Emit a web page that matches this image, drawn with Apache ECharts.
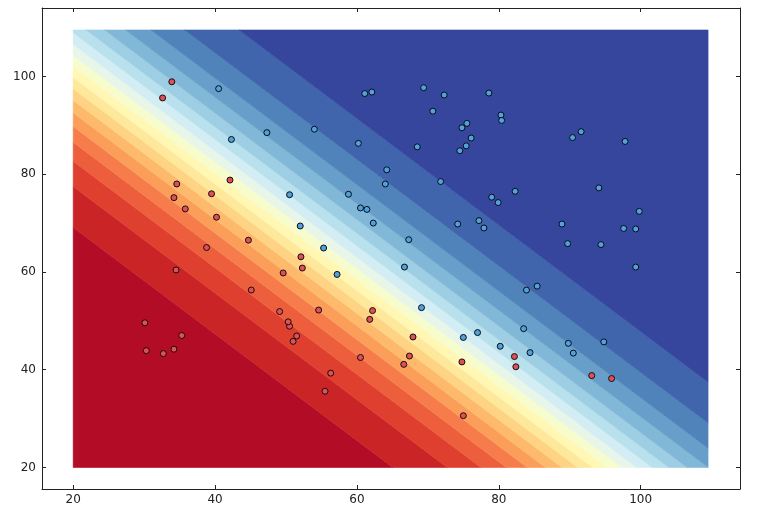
<!DOCTYPE html>
<html>
<head>
<meta charset="utf-8">
<script src="https://cdn.jsdelivr.net/npm/echarts@6/dist/echarts.min.js"></script>
<style>
html,body{margin:0;padding:0;background:#ffffff;}
#chart{width:768px;height:516px;}
</style>
</head>
<body>
<div id="chart"></div>
<script>
// ---- data ----
const tickValues = [20, 40, 60, 80, 100];

const rejectedExam1 = [34.6,30.3,35.8,45.1,95.9,75.0,39.5,67.9,67.4,50.5,34.2,93.1,61.8,38.8,52.1,40.2,54.6,33.9,74.8,34.2,51.5,82.4,51.0,62.2,34.5,50.3,49.6,32.6,35.3,56.3,30.1,44.7,66.6,49.1,32.7,60.5,82.2,42.1,52.3,55.5];
const rejectedExam2 = [78.0,43.9,72.9,56.3,38.2,30.6,76.0,46.7,42.8,48.9,44.2,38.8,50.3,65.0,63.1,71.2,52.2,98.9,41.6,75.2,46.9,40.6,45.8,52.1,60.4,49.8,59.8,95.6,47.0,39.3,49.6,66.5,41.1,51.9,43.3,42.5,42.7,78.8,60.8,35.6];

const admittedExam1 = [60.2,79.0,61.1,75.0,76.1,84.4,82.3,69.4,54.0,69.1,70.7,77.0,89.7,77.9,62.3,80.2,61.4,85.4,52.0,64.2,83.9,94.4,77.2,97.8,62.1,91.6,79.9,99.3,90.5,97.6,74.2,71.8,75.4,40.5,80.3,66.7,64.0,72.3,60.5,58.8,99.8,47.3,50.5,88.9,94.8,67.3,57.2,80.4,68.5,75.5,78.6,94.1,90.4,74.5,89.8,83.5,42.3,99.3,55.3,74.8];
const admittedExam2 = [86.3,75.3,96.5,46.6,87.4,43.5,76.5,97.7,89.2,52.7,92.9,47.6,65.8,69.0,70.0,44.8,72.8,57.1,69.4,80.9,56.3,65.6,70.5,86.7,96.8,88.7,74.2,61.0,43.4,68.9,69.8,78.5,85.8,97.5,92.1,61.0,78.0,96.2,73.1,75.9,72.4,88.5,75.8,69.8,45.7,66.6,59.5,91.0,85.6,90.4,96.6,77.2,87.5,84.8,45.4,48.4,87.1,68.8,64.9,89.5];

// logistic model: p = 1 / (1 + exp(-(wX*x + wY*y + b)))
const modelWeights = [0.0974, 0.0894];
const modelIntercept = -11.07;
const meshRange = [20, 109.5];
const probabilityLevels = [0,0.05,0.1,0.15,0.2,0.25,0.3,0.35,0.4,0.45,0.5,0.55,0.6,0.65,0.7,0.75,0.8,0.85,0.9,0.95,1.0];

// ---- styling ----
const rdylbuStops = ['#a50026','#d73027','#f46d43','#fdae61','#fee090','#ffffbf','#e0f3f8','#abd9e9','#74add1','#4575b4','#313695'];
function hexToRgb(h){return [parseInt(h.slice(1,3),16),parseInt(h.slice(3,5),16),parseInt(h.slice(5,7),16)];}
function rdylbu(t){
  t = Math.max(0, Math.min(1, t));
  const n = rdylbuStops.length - 1;
  const f = t * n;
  const i = Math.min(n - 1, Math.floor(f));
  const r = f - i;
  const a = hexToRgb(rdylbuStops[i]), b = hexToRgb(rdylbuStops[i + 1]);
  const c = a.map((v, k) => Math.round(v + (b[k] - v) * r));
  return 'rgb(' + c.join(',') + ')';
}
function logit(p){ return Math.log(p / (1 - p)); }
function zAt(pt){ return modelWeights[0] * pt[0] + modelWeights[1] * pt[1] + modelIntercept; }

// clip polygon keeping points where g(pt) >= 0 (g linear)
function clipPoly(poly, g){
  const out = [];
  for (let i = 0; i < poly.length; i++) {
    const A = poly[i], B = poly[(i + 1) % poly.length];
    const ga = g(A), gb = g(B);
    if (ga >= 0) out.push(A);
    if ((ga >= 0) !== (gb >= 0)) {
      const t = ga / (ga - gb);
      out.push([A[0] + (B[0] - A[0]) * t, A[1] + (B[1] - A[1]) * t]);
    }
  }
  return out;
}

const bandData = [];
for (let i = 0; i < probabilityLevels.length - 1; i++) {
  bandData.push([probabilityLevels[i], probabilityLevels[i + 1]]);
}

const chart = echarts.init(document.getElementById('chart'), null, {renderer: 'canvas'});

const axisColor = '#222';
const labelStyle = {color: '#222', fontSize: 12, fontFamily: 'DejaVu Sans'};

const option = {
  animation: false,
  backgroundColor: '#ffffff',
  grid: {left: 42, top: 8, width: 698, height: 481, containLabel: false},
  xAxis: [
    {
      type: 'value', min: 15.6, max: 114, position: 'bottom',
      axisLine: {show: true, onZero: false, lineStyle: {color: axisColor, width: 1}},
      axisTick: {show: true, inside: true, length: 4, customValues: tickValues, lineStyle: {color: axisColor}},
      axisLabel: Object.assign({show: true, margin: 5, customValues: tickValues}, labelStyle),
      splitLine: {show: false}
    },
    {
      type: 'value', min: 15.6, max: 114, position: 'top',
      axisLine: {show: true, onZero: false, lineStyle: {color: axisColor, width: 1}},
      axisTick: {show: true, inside: true, length: 4, customValues: tickValues, lineStyle: {color: axisColor}},
      axisLabel: {show: false},
      splitLine: {show: false}
    }
  ],
  yAxis: [
    {
      type: 'value', min: 15.6, max: 114, position: 'left',
      axisLine: {show: true, onZero: false, lineStyle: {color: axisColor, width: 1}},
      axisTick: {show: true, inside: true, length: 4, customValues: tickValues, lineStyle: {color: axisColor}},
      axisLabel: Object.assign({show: true, margin: 6, customValues: tickValues}, labelStyle),
      splitLine: {show: false}
    },
    {
      type: 'value', min: 15.6, max: 114, position: 'right',
      axisLine: {show: true, onZero: false, lineStyle: {color: axisColor, width: 1}},
      axisTick: {show: true, inside: true, length: 4, customValues: tickValues, lineStyle: {color: axisColor}},
      axisLabel: {show: false},
      splitLine: {show: false}
    }
  ],
  series: [
    {
      type: 'custom',
      name: 'probability',
      coordinateSystem: 'cartesian2d',
      xAxisIndex: 0, yAxisIndex: 0,
      silent: true,
      z: 1,
      data: bandData,
      renderItem: function (params, api) {
        const lo = api.value(0), hi = api.value(1);
        const box = [[meshRange[0], meshRange[0]], [meshRange[1], meshRange[0]], [meshRange[1], meshRange[1]], [meshRange[0], meshRange[1]]];
        let poly = box;
        if (lo > 0) { const zl = logit(lo); poly = clipPoly(poly, p => zAt(p) - zl); }
        if (hi < 1) { const zh = logit(hi); poly = clipPoly(poly, p => zh - zAt(p)); }
        if (poly.length < 3) return null;
        const pts = poly.map(p => api.coord(p));
        const col = rdylbu((lo + hi) / 2);
        return {
          type: 'polygon',
          shape: {points: pts},
          style: {fill: col, stroke: col, lineWidth: 0.6}
        };
      }
    },
    {
      type: 'scatter',
      name: 'Not admitted',
      z: 3,
      symbol: 'circle',
      symbolSize: 6,
      itemStyle: {color: '#dc5158', borderColor: '#1a0a0a', borderWidth: 1, opacity: 1},
      data: rejectedExam1.map((v, i) => [v, rejectedExam2[i]])
    },
    {
      type: 'scatter',
      name: 'Admitted',
      z: 3,
      symbol: 'circle',
      symbolSize: 6,
      itemStyle: {color: '#4fa3d8', borderColor: '#0a0a1a', borderWidth: 1, opacity: 1},
      data: admittedExam1.map((v, i) => [v, admittedExam2[i]])
    }
  ]
};
chart.setOption(option);
</script>
</body>
</html>
